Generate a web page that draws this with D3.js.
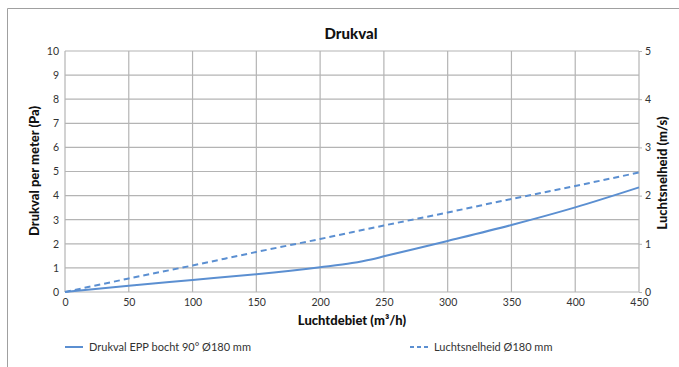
<!DOCTYPE html>
<html><head><meta charset="utf-8">
<script src="https://cdn.jsdelivr.net/npm/d3@7"></script>
<style>body{margin:0;background:#fff;} svg{display:block;font-family:"Lato","DejaVu Sans",sans-serif;}</style>
</head><body><svg id="c" width="679" height="367"></svg>
<script>
const flow = [0, 50, 100, 150, 200, 225, 240, 250, 300, 350, 400, 450];
const drukval = [0, 0.26, 0.5, 0.74, 1.03, 1.2, 1.35, 1.48, 2.12, 2.78, 3.51, 4.34];
const flowV = [0, 50, 100, 150, 200, 250, 300, 350, 400, 450];
const snelheid = [0, 0.28, 0.55, 0.83, 1.1, 1.38, 1.65, 1.93, 2.2, 2.48];
const xTicks = [0, 50, 100, 150, 200, 250, 300, 350, 400, 450];
const yLeftTicks = [0,1,2,3,4,5,6,7,8,9,10];
const yRightTicks = [0,1,2,3,4,5];
const title = "Drukval";
const xLabel = "Luchtdebiet (m³/h)";
const yLeftLabel = "Drukval per meter (Pa)";
const yRightLabel = "Luchtsnelheid (m/s)";
const series1 = "Drukval EPP bocht 90° Ø180 mm";
const series2 = "Luchtsnelheid Ø180 mm";

const svg = d3.select("#c");
const color = "#5b8fd1", grid = "#b4b4b4", txt = "#333";
svg.append("path").attr("d","M7.5,367V8.5H679").attr("fill","none").attr("stroke","#a0a0a0").attr("stroke-width",1);

const x = d3.scaleLinear().domain([0,450]).range([65,639]);
const yL = d3.scaleLinear().domain([0,10]).range([292,51]);
const yR = d3.scaleLinear().domain([0,5]).range([292,51]);

// grid
svg.append("g").selectAll("line").data(xTicks).join("line")
  .attr("x1",d=>x(d)).attr("x2",d=>x(d)).attr("y1",yL(10)).attr("y2",yL(0))
  .attr("stroke",grid).attr("stroke-width",1.2);
svg.append("g").selectAll("line").data(yLeftTicks).join("line")
  .attr("x1",x(0)).attr("x2",x(450)).attr("y1",d=>yL(d)).attr("y2",d=>yL(d))
  .attr("stroke",grid).attr("stroke-width",1.2);

// axes
const ax = svg.append("g").attr("transform",`translate(0,${yL(0)})`)
  .call(d3.axisBottom(x).tickValues(xTicks).tickSize(0).tickPadding(7));
const ayl = svg.append("g").attr("transform",`translate(${x(0)},0)`)
  .call(d3.axisLeft(yL).tickValues(yLeftTicks).tickSize(0).tickPadding(6));
const ayr = svg.append("g").attr("transform",`translate(${x(450)},0)`)
  .call(d3.axisRight(yR).tickValues(yRightTicks).tickFormat(d3.format("d")).tickSize(3).tickPadding(3));
[ax,ayl,ayr].forEach(g=>{
  g.select(".domain").remove();
  g.selectAll("text").attr("fill",txt).style("font-size","10.5px").style("font-family","Lato, sans-serif");
  g.selectAll("line").attr("stroke",grid);
});

// lines
svg.append("path").datum(d3.zip(flow,drukval))
  .attr("d",d3.line().x(d=>x(d[0])).y(d=>yL(d[1])).curve(d3.curveMonotoneX))
  .attr("fill","none").attr("stroke",color).attr("stroke-width",2);
svg.append("path").datum(d3.zip(flowV,snelheid))
  .attr("d",d3.line().x(d=>x(d[0])).y(d=>yR(d[1])).curve(d3.curveMonotoneX))
  .attr("fill","none").attr("stroke",color).attr("stroke-width",2).attr("stroke-dasharray","6,4");

// texts
svg.append("text").attr("x",351).attr("y",39).attr("text-anchor","middle")
  .style("font-weight","900").style("font-size","15px").attr("fill","#111").text(title);
svg.append("text").attr("x",352).attr("y",325).attr("text-anchor","middle")
  .style("font-weight","900").style("font-size","13px").attr("fill","#111").text(xLabel);
svg.append("text").attr("transform","translate(39,171) rotate(-90)").attr("text-anchor","middle")
  .style("font-weight","900").style("font-size","13px").attr("fill","#111").text(yLeftLabel);
svg.append("text").attr("transform","translate(667,173) rotate(-90)").attr("text-anchor","middle")
  .style("font-weight","900").style("font-size","13px").attr("fill","#111").text(yRightLabel);

// legend
const lg = [{t:series1,x:65,dash:null},{t:series2,x:410,dash:"4,3"}];
lg.forEach(l=>{
  svg.append("line").attr("x1",l.x).attr("x2",l.x+18).attr("y1",347).attr("y2",347)
    .attr("stroke",color).attr("stroke-width",2).attr("stroke-dasharray",l.dash);
  svg.append("text").attr("x",l.x+24).attr("y",351).style("font-size","11px").attr("fill",txt).text(l.t);
});
</script></body></html>
